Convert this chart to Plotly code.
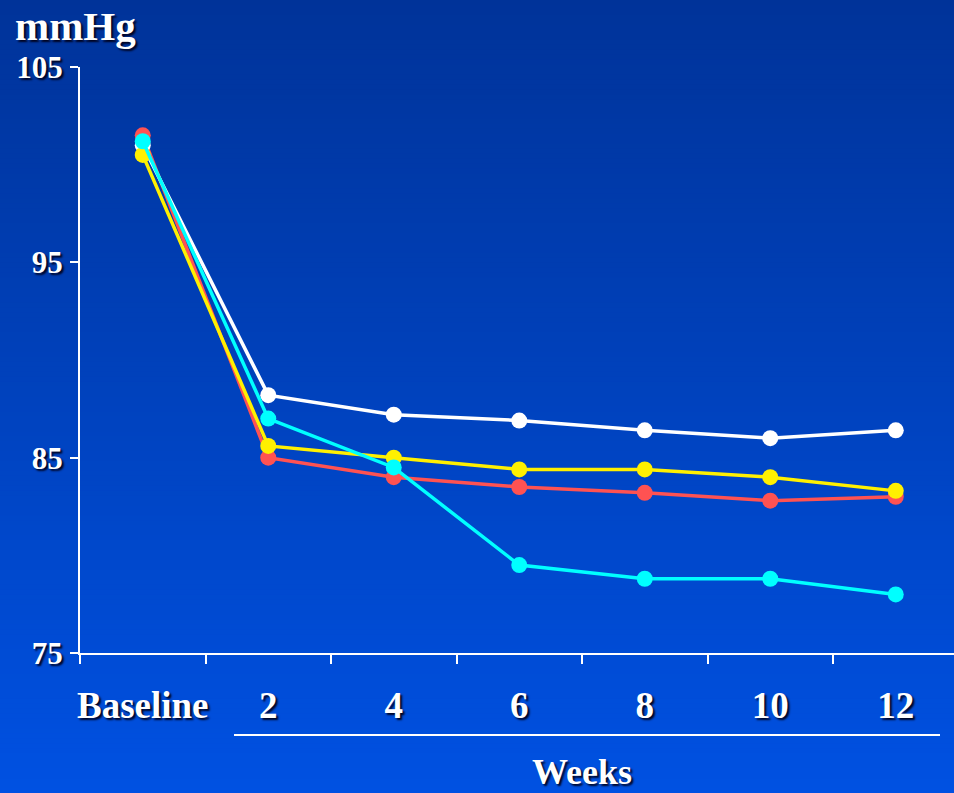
import plotly.graph_objects as go

# Visit labels along the x axis
visits = ["Baseline", "2", "4", "6", "8", "10", "12"]

# Mean blood pressure (mmHg) per group at each visit
red_vals = [101.5, 85.0, 84.0, 83.5, 83.2, 82.8, 83.0]
white_vals = [101.0, 88.2, 87.2, 86.9, 86.4, 86.0, 86.4]
yellow_vals = [100.5, 85.6, 85.0, 84.4, 84.4, 84.0, 83.3]
cyan_vals = [101.2, 87.0, 84.5, 79.5, 78.8, 78.8, 78.0]

y_ticks = [75, 85, 95, 105]

series = [
    (red_vals, "#FF5252"),
    (white_vals, "#FFFFFF"),
    (yellow_vals, "#FFF000"),
    (cyan_vals, "#00FFFF"),
]

W, H = 954, 793
ML, MR, MT, MB = 80, 0, 67, 140
plot_w = W - ML - MR
plot_h = H - MT - MB

shadow = "2px 2px 2px rgba(0,0,25,0.95)"
serif = "Liberation Serif, Times New Roman, serif"

fig = go.Figure()
for vals, col in series:
    fig.add_trace(go.Scatter(
        x=visits, y=vals, mode="lines+markers",
        line=dict(color=col, width=3.5),
        marker=dict(color=col, size=16),
        showlegend=False, hoverinfo="skip",
    ))

# Vertical blue gradient behind everything
def px_to_paper_y(py):
    return (H - MB - py) / plot_h

def px_to_paper_x(px):
    return (px - ML) / plot_w

top_rgb = (0, 51, 153)
bot_rgb = (0, 81, 226)
n_strips = 160
shapes = []
for i in range(n_strips):
    t = (i + 0.5) / n_strips
    c = tuple(round(top_rgb[k] + (bot_rgb[k] - top_rgb[k]) * t) for k in range(3))
    y0 = i * H / n_strips
    y1 = (i + 1) * H / n_strips + 0.8
    shapes.append(dict(
        type="rect", xref="paper", yref="paper", layer="below",
        x0=px_to_paper_x(-5), x1=px_to_paper_x(W + 5),
        y0=px_to_paper_y(y1), y1=px_to_paper_y(y0),
        fillcolor="rgb(%d,%d,%d)" % c, line=dict(width=0),
    ))

# Rule under the week labels
shapes.append(dict(
    type="line", xref="paper", yref="paper", layer="above",
    x0=px_to_paper_x(234), x1=px_to_paper_x(940),
    y0=px_to_paper_y(735), y1=px_to_paper_y(735),
    line=dict(color="white", width=2),
))

annotations = [
    dict(text="mmHg", xref="paper", yref="paper",
         x=px_to_paper_x(13), y=px_to_paper_y(26), xanchor="left", yanchor="middle",
         showarrow=False,
         font=dict(family=serif, size=41, weight="bold", color="white", shadow=shadow)),
    dict(text="Weeks", xref="paper", yref="paper",
         x=px_to_paper_x(582), y=px_to_paper_y(772), xanchor="center", yanchor="middle",
         showarrow=False,
         font=dict(family=serif, size=36, weight="bold", color="white", shadow=shadow)),
]

fig.update_layout(
    width=W, height=H,
    margin=dict(l=ML, r=MR, t=MT, b=MB, pad=0),
    paper_bgcolor="#0042BE",
    plot_bgcolor="rgba(0,0,0,0)",
    shapes=shapes,
    annotations=annotations,
    xaxis=dict(
        type="category", categoryorder="array", categoryarray=visits,
        range=[-0.5, -0.5 + plot_w / 125.5],
        tickson="boundaries", ticks="outside", ticklen=9, tickwidth=2, tickcolor="white",
        showline=True, linecolor="white", linewidth=2,
        showgrid=False, zeroline=False, tickangle=0,
        tickfont=dict(family=serif, size=37, weight="bold", color="white", shadow=shadow),
        ticklabelstandoff=19,
    ),
    yaxis=dict(
        range=[75, 105], tickvals=y_ticks,
        ticks="outside", ticklen=8, tickwidth=2, tickcolor="white",
        showline=True, linecolor="white", linewidth=2,
        showgrid=False, zeroline=False,
        tickfont=dict(family=serif, size=31, weight="bold", color="white", shadow=shadow),
        ticklabelstandoff=1,
    ),
)

fig.write_html("out.html")
